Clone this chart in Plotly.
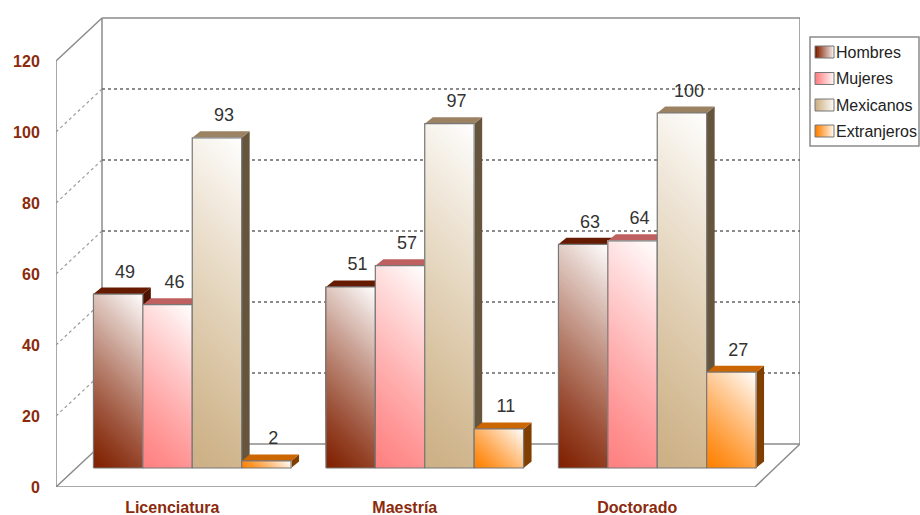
import plotly.graph_objects as go

categories = ["Licenciatura", "Maestría", "Doctorado"]
series_names = ["Hombres", "Mujeres", "Mexicanos", "Extranjeros"]
hombres = [49, 51, 63]
mujeres = [46, 57, 64]
mexicanos = [93, 97, 100]
extranjeros = [2, 11, 27]
y_ticks = [0, 20, 40, 60, 80, 100, 120]

series_values = [hombres, mujeres, mexicanos, extranjeros]
front_rgb = [(128, 32, 0), (255, 128, 128), (205, 176, 132), (255, 128, 0)]
top_colors = ["#661a00", "#bf6060", "#9a8262", "#cc6600"]
side_colors = ["#4d1300", "#804040", "#66553d", "#803f00"]
swatch_colors = ["#a85a3c", "#ffb0b0", "#e0cdb0", "#ffaa55"]

# figure geometry
W, H = 920, 515
L, R, T, B = 56, 800, 17, 487
PX = 232.5      # pixels per category
PY = 3.55       # pixels per value unit
WALL_X, WALL_Y = 46 / PX, 43 / PY   # depth of the walls in axis units
BAR_DX, BAR_DY = 8 / PX, 6.5 / PY   # depth of each bar in axis units
BASE = 19 / PY                      # bars stand in the middle of the floor
SHIFT = 20 / PX                     # ... and so are shifted right as well
GROUP = 0.85
BAR_W = GROUP / 4
LEVELS = 56
GAMMA = 1.2
xmin, xmax = -0.5, -0.5 + (R - L) / PX
ymin, ymax = 0, (B - T) / PY
xfront_end = xmin + (755 - L) / PX


def paper_x(px):
    return (px - L) / (R - L)


def paper_y(px):
    return (B - px) / (B - T)


fig = go.Figure()


def poly(xs, ys, color):
    fig.add_trace(go.Scatter(x=xs + xs[:1], y=ys + ys[:1], mode="lines", fill="toself",
                             fillcolor=color, line=dict(width=0), hoverinfo="skip",
                             showlegend=False))


def line(xs, ys, color, width=1.5, dash="solid"):
    fig.add_trace(go.Scatter(x=xs, y=ys, mode="lines", hoverinfo="skip", showlegend=False,
                             line=dict(color=color, width=width, dash=dash),
                             cliponaxis=False))


def clip_region(w, h, s):
    """Part of the w x h pixel rectangle with u + v >= s."""
    rect = [(0, 0), (w, 0), (w, h), (0, h)]
    out = []
    for k in range(4):
        a, b = rect[k], rect[(k + 1) % 4]
        fa, fb = a[0] + a[1] - s, b[0] + b[1] - s
        if fa >= 0:
            out.append(a)
        if fa * fb < 0:
            r = fa / (fa - fb)
            out.append((a[0] + (b[0] - a[0]) * r, a[1] + (b[1] - a[1]) * r))
    return out


# real bars (carry the data)
for name, vals, col in zip(series_names, series_values, swatch_colors):
    fig.add_trace(go.Bar(name=name, x=[i + SHIFT for i in range(len(categories))],
                         y=vals, base=BASE, showlegend=False,
                         marker=dict(color=col, line=dict(width=0))))

# walls and floor
line([xmin, xmin + WALL_X, xmin + WALL_X, xmin, xmin],
     [120, 120 + WALL_Y, WALL_Y, 0, 120], "#8c8c8c")
line([xmin + WALL_X, xmax, xmax, xmin + WALL_X], [120 + WALL_Y, 120 + WALL_Y, WALL_Y, WALL_Y], "#8c8c8c")
line([xmin, xfront_end, xmax], [0, 0, WALL_Y], "#8c8c8c")

# dotted grid on the left and the back wall
for v in y_ticks[1:-1]:
    line([xmin, xmin + WALL_X], [v, v + WALL_Y], "#9a9a9a", 1.2, "dot")
    line([xmin + WALL_X, xmax], [v + WALL_Y, v + WALL_Y], "#666666", 1.5, "dot")

# bars, painted left to right so that each front hides its neighbour's side
label_x, label_y, label_t = [], [], []
for i in range(len(categories)):
    start = i + SHIFT - GROUP / 2
    for j, vals in enumerate(series_values):
        v = vals[i]
        x0, x1 = start + j * BAR_W, start + (j + 1) * BAR_W
        y0, y1 = BASE, BASE + v
        poly([x1, x1 + BAR_DX, x1 + BAR_DX, x1], [y0, y0 + BAR_DY, y1 + BAR_DY, y1], side_colors[j])
        poly([x0, x0 + BAR_DX, x1 + BAR_DX, x1], [y1, y1 + BAR_DY, y1 + BAR_DY, y1], top_colors[j])
        w, h = (x1 - x0) * PX, v * PY
        for n in range(LEVELS):
            t = n / LEVELS
            region = clip_region(w, h, t * (w + h))
            mix = ((n + 0.5) / LEVELS) ** GAMMA
            c = [round(b + (255 - b) * mix) for b in front_rgb[j]]
            poly([x0 + u / PX for u, _ in region], [y0 + q / PY for _, q in region],
                 "rgb(%d,%d,%d)" % tuple(c))
        line([x0, x1, x1, x0, x0], [y0, y0, y1, y1, y0], "#777777", 1.2)
        label_x.append((x0 + x1) / 2 + 7 / PX)
        label_y.append(y1 + 21 / PY)
        label_t.append(str(v))

fig.add_trace(go.Scatter(x=label_x, y=label_y, text=label_t, mode="text", textposition="middle center",
                         textfont=dict(family="Liberation Sans", size=18, color="#333333"),
                         hoverinfo="skip", showlegend=False, cliponaxis=False))

# legend box, gradient swatches and names
shapes = [dict(type="rect", xref="paper", yref="paper",
               x0=paper_x(810), x1=paper_x(919), y0=paper_y(146), y1=paper_y(37),
               line=dict(color="#8c8c8c", width=1.5), fillcolor="#ffffff", layer="above")]
annotations = []
ROW_Y = [52, 78.5, 105, 131]
STRIPS = 10
for name, rgb, row in zip(series_names, front_rgb, ROW_Y):
    for s in range(STRIPS):
        c = [round(b + (255 - b) * s / STRIPS) for b in rgb]
        shapes.append(dict(type="rect", xref="paper", yref="paper", layer="above",
                           x0=paper_x(815 + 1.9 * s), x1=paper_x(834),
                           y0=paper_y(row + 6), y1=paper_y(row - 6),
                           line=dict(width=0), fillcolor="rgb(%d,%d,%d)" % tuple(c)))
    shapes.append(dict(type="rect", xref="paper", yref="paper", layer="above",
                       x0=paper_x(815), x1=paper_x(834), y0=paper_y(row + 6), y1=paper_y(row - 6),
                       line=dict(color="#777777", width=1)))
    annotations.append(dict(text=name, xref="paper", yref="paper", x=paper_x(836), y=paper_y(row),
                            xanchor="left", yanchor="middle", showarrow=False, borderpad=0, xshift=-1,
                            font=dict(family="Liberation Sans", size=16, color="#222222")))

tick_font = dict(family="Liberation Sans", size=16, color="#8b2a0c", weight="bold")
axis_common = dict(showgrid=False, zeroline=False, showline=False, ticks="outside",
                   tickcolor="rgba(0,0,0,0)", tickfont=tick_font)
fig.update_layout(
    width=W, height=H, autosize=False, showlegend=False,
    paper_bgcolor="#ffffff", plot_bgcolor="#ffffff",
    margin=dict(l=L, r=W - R, t=T, b=H - B, autoexpand=False),
    barmode="group", bargap=1 - GROUP, bargroupgap=0,
    xaxis=dict(range=[xmin, xmax], tickvals=list(range(len(categories))), ticktext=categories,
               ticklen=6, **axis_common),
    yaxis=dict(range=[ymin, ymax], tickvals=y_ticks, ticklen=12, **axis_common),
    shapes=shapes, annotations=annotations,
)

# the browser's default page margin would push the 920x515 figure out of the window
fig.write_html("out.html", config={"displayModeBar": False}, post_script=(
    "document.body.style.margin='0';"
    "document.documentElement.style.overflow='hidden';"))
